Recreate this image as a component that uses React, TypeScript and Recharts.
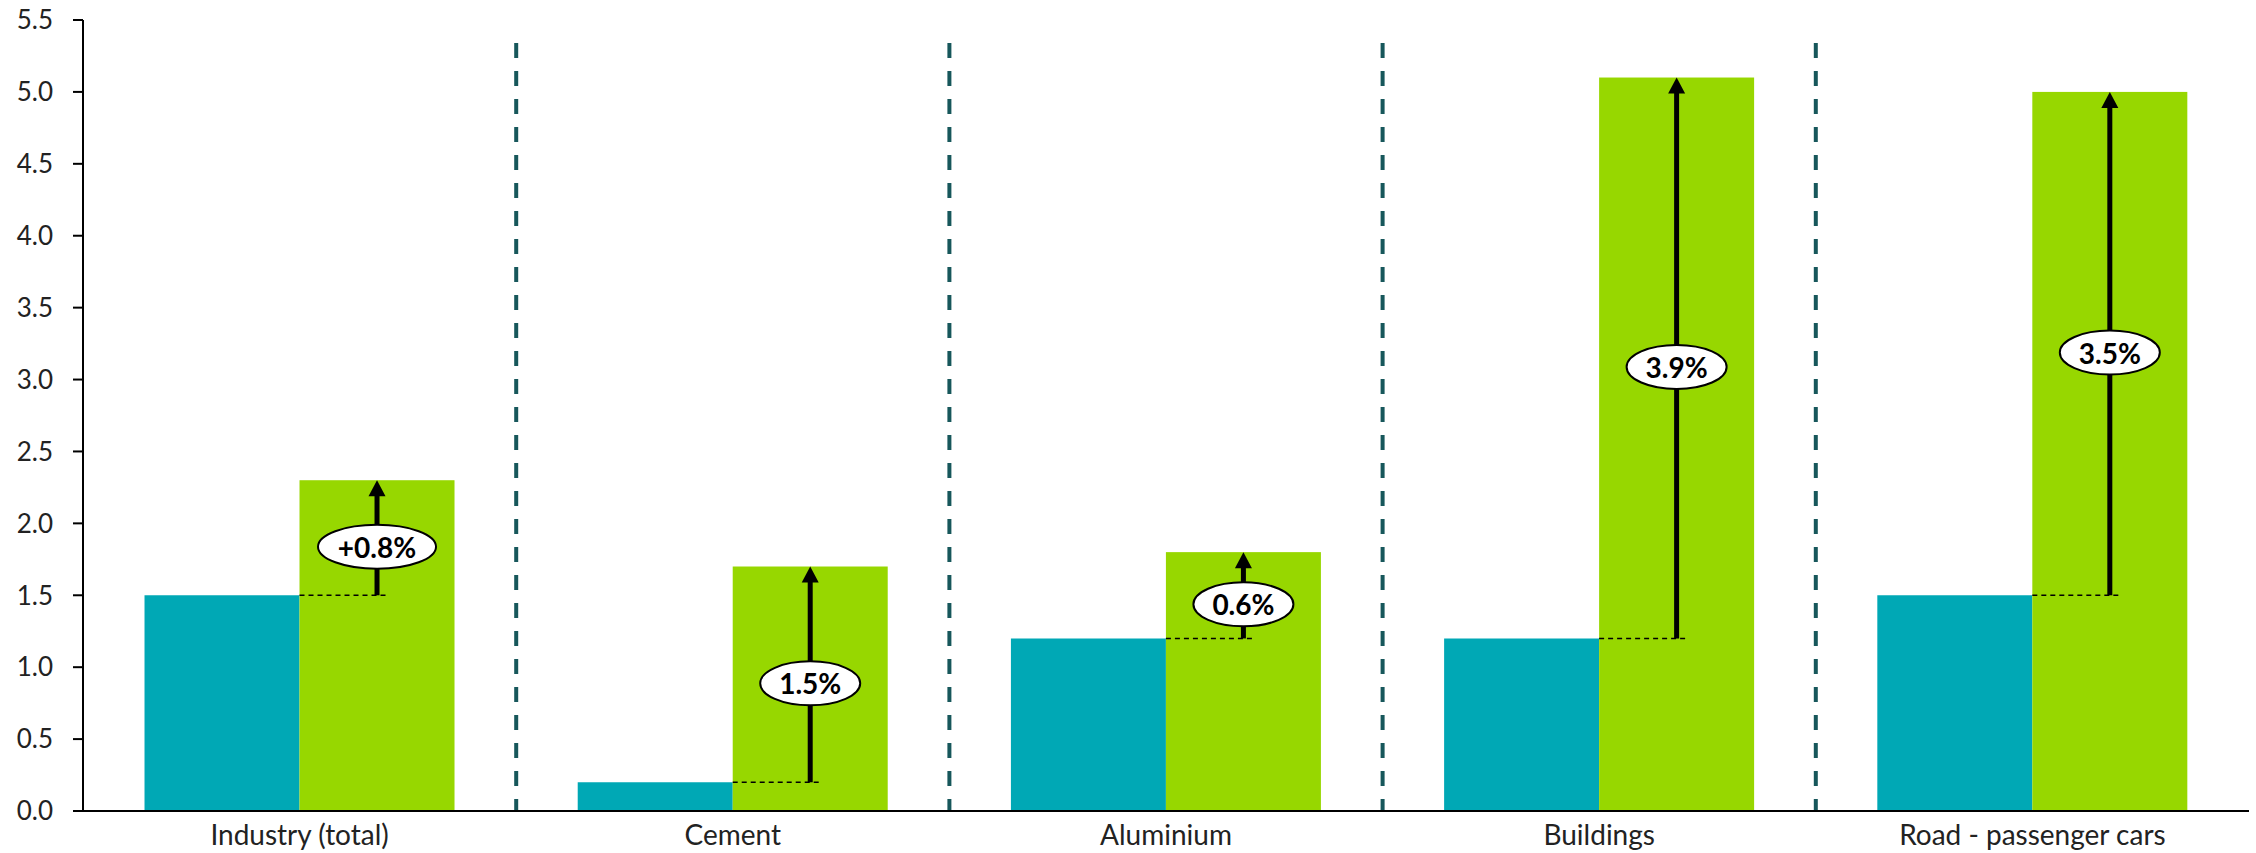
import React from 'react';
import { BarChart, Bar, XAxis, YAxis, ReferenceLine } from 'recharts';

const categories = ['Industry (total)', 'Cement', 'Aluminium', 'Buildings', 'Road - passenger cars'];
const baseValues = [1.5, 0.2, 1.2, 1.2, 1.5];
const targetValues = [2.3, 1.7, 1.8, 5.1, 5.0];
const growthLabels = ['+0.8%', '1.5%', '0.6%', '3.9%', '3.5%'];
const yTicks = [0, 0.5, 1, 1.5, 2, 2.5, 3, 3.5, 4, 4.5, 5, 5.5];
// dashed separators sit at the left edge of these categories
const separators = categories.slice(1);

const TEAL = '#00A8B5';
const GREEN = '#97D700';
const SEP = '#17575B';
const FONT = 'Lato, "DejaVu Sans", sans-serif';

const data = categories.map((name, i) => ({
  name,
  base: baseValues[i],
  target: targetValues[i],
  label: growthLabels[i],
}));

// green bar + arrow from the base level up to the target, with the % bubble
function GrowthBar(props: any) {
  const { x, y, width, height, payload } = props;
  const bottom = y + height;
  const baseY = bottom - height * (payload.base / payload.target);
  const cx = x + width / 2;
  const labelY = (y + baseY) / 2 + 9;
  const rx = 14 + payload.label.length * 9;
  return (
    <g>
      <rect x={x} y={y} width={width} height={height} fill={GREEN} />
      <line x1={x} x2={cx + 9} y1={baseY} y2={baseY} stroke="#000" strokeWidth={1.5} strokeDasharray="5 4" />
      <line x1={cx} x2={cx} y1={baseY} y2={y + 14} stroke="#000" strokeWidth={5} />
      <polygon points={`${cx},${y} ${cx - 8.5},${y + 16} ${cx + 8.5},${y + 16}`} fill="#000" />
      <ellipse cx={cx} cy={labelY} rx={rx} ry={22} fill="#fff" stroke="#000" strokeWidth={2} />
      <text
        x={cx}
        y={labelY}
        textAnchor="middle"
        dominantBaseline="central"
        fontSize={28}
        fontWeight="bold"
        fontFamily={FONT}
        fill="#000"
      >
        {payload.label}
      </text>
    </g>
  );
}

export default function App() {
  return (
    <div style={{ position: 'absolute', left: 0, top: 0, background: '#fff' }}>
      <BarChart
        width={2256}
        height={853}
        data={data}
        margin={{ top: 20, right: 7, bottom: 0, left: 0 }}
        barCategoryGap="14.2%"
        barGap={0}
      >
        <XAxis
          dataKey="name"
          height={42}
          tickLine={false}
          tickSize={0}
          tickMargin={14}
          axisLine={{ stroke: '#000', strokeWidth: 2 }}
          tick={{ fontSize: 28, fill: '#222', fontFamily: FONT }}
          interval={0}
        />
        <YAxis
          width={83}
          domain={[0, 5.5]}
          ticks={yTicks}
          interval={0}
          tickFormatter={(v: number) => v.toFixed(1)}
          tickSize={10}
          tickMargin={20}
          axisLine={{ stroke: '#000', strokeWidth: 2 }}
          tickLine={{ stroke: '#000', strokeWidth: 2 }}
          tick={{ fontSize: 26, fill: '#222', fontFamily: FONT }}
        />
        {separators.map((s) => (
          <ReferenceLine
            key={s}
            position="start"
            segment={[
              { x: s, y: 5.34 },
              { x: s, y: 0 },
            ]}
            stroke={SEP}
            strokeWidth={4}
            strokeDasharray="15 13"
          />
        ))}
        <Bar dataKey="base" fill={TEAL} isAnimationActive={false} />
        <Bar dataKey="target" fill={GREEN} shape={GrowthBar} isAnimationActive={false} />
      </BarChart>
    </div>
  );
}
